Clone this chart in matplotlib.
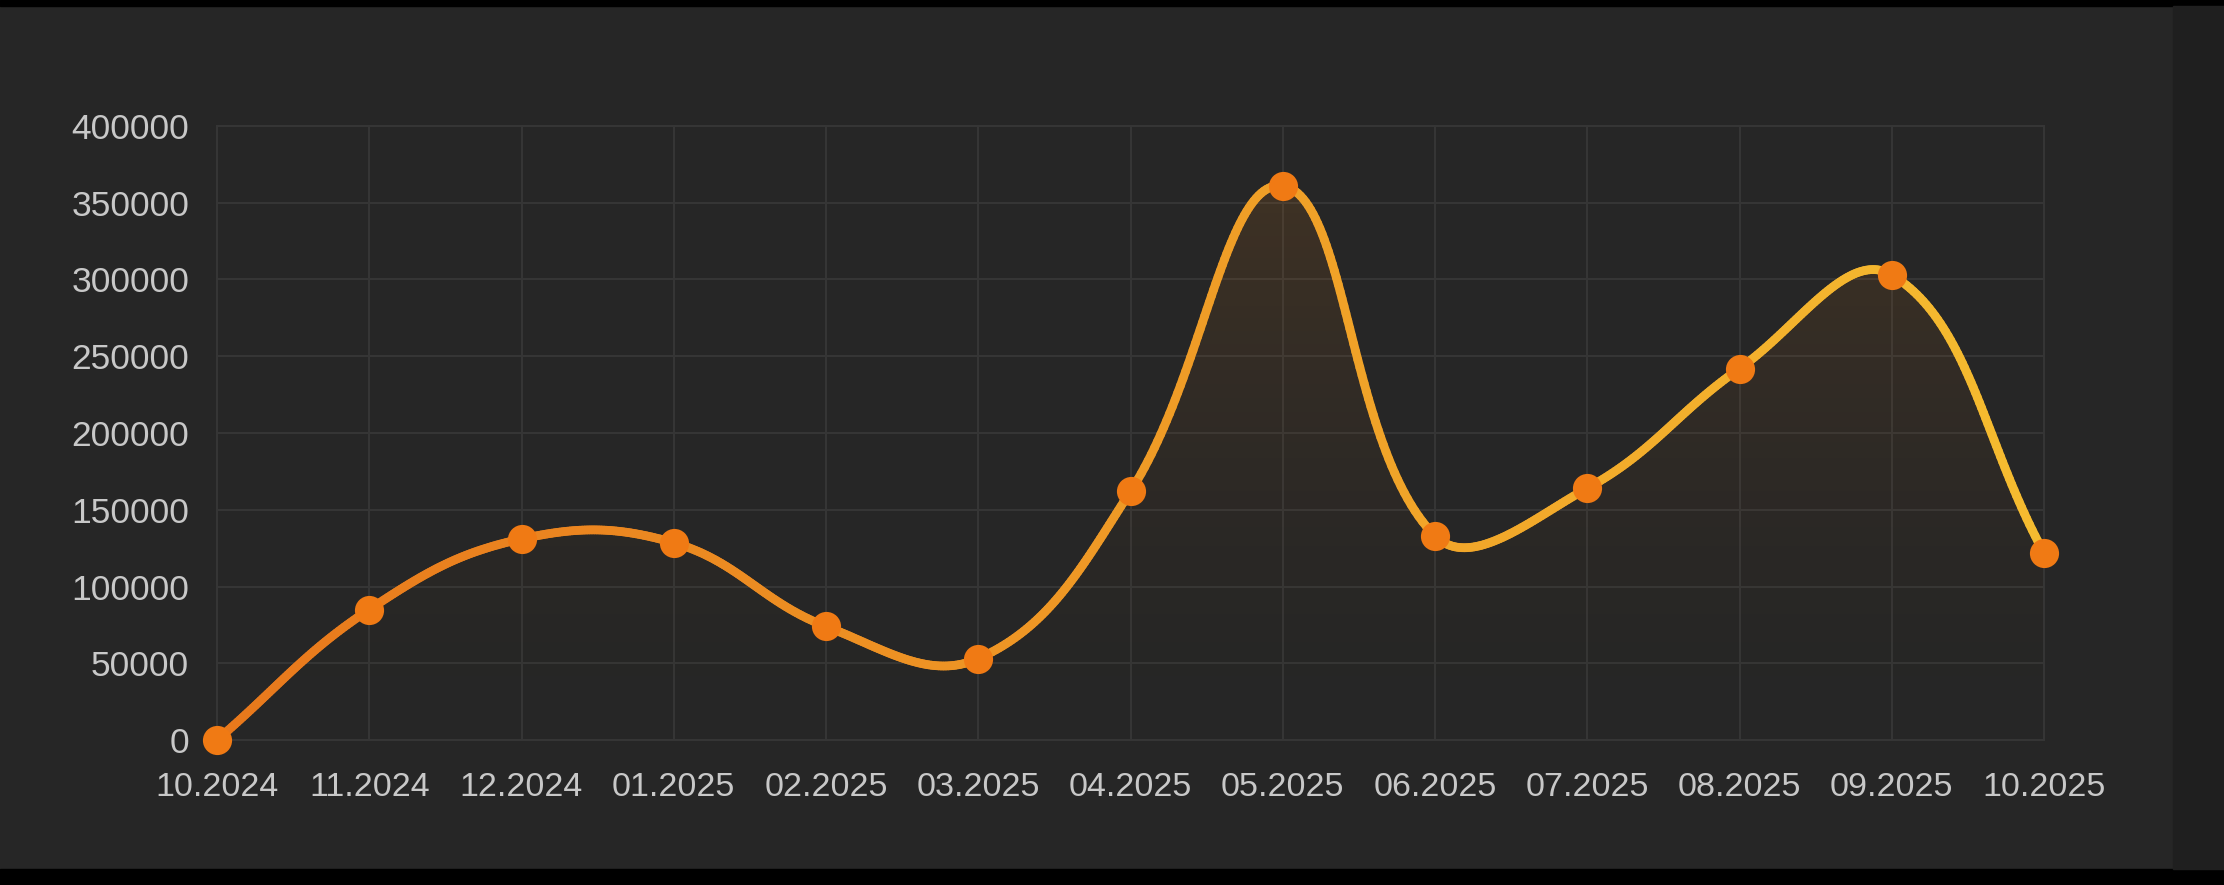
import numpy as np
import matplotlib
matplotlib.use('Agg')
import matplotlib.pyplot as plt
from matplotlib.collections import LineCollection
from matplotlib.patches import Polygon, Rectangle

# Chart data
months = ['10.2024', '11.2024', '12.2024', '01.2025', '02.2025', '03.2025', '04.2025',
          '05.2025', '06.2025', '07.2025', '08.2025', '09.2025', '10.2025']
values = [0, 85000, 131000, 128500, 74000, 53000, 162000,
          361000, 133000, 164000, 242000, 303000, 122000]
y_ticks = [0, 50000, 100000, 150000, 200000, 250000, 300000, 350000, 400000]

bg = '#262626'
grid_col = '#363636'
text_col = '#c8c8c8'

plt.rcParams['font.family'] = ['Liberation Sans', 'DejaVu Sans']

W, H = 2224, 885
fig = plt.figure(figsize=(W / 100, H / 100), dpi=100, facecolor=bg)

# screenshot frame: black top/bottom strips, darker right strip
fig.patches.append(Rectangle((0, 1 - 6 / H), 1, 6 / H, transform=fig.transFigure, color='black', zorder=0))
fig.patches.append(Rectangle((0, 0), 1, 16 / H, transform=fig.transFigure, color='black', zorder=0))
fig.patches.append(Rectangle((2173 / W, 16 / H), 1 - 2173 / W, 1 - 22 / H, transform=fig.transFigure,
                             color='#1f1f1f', zorder=0))

left, right, top, bottom = 217, 2044, 126, 740
ax = fig.add_axes([left / W, 1 - bottom / H, (right - left) / W, (bottom - top) / H])
ax.set_facecolor(bg)

x = np.arange(len(values), dtype=float)
y = np.array(values, dtype=float)
ax.set_xlim(0, len(values) - 1)
ax.set_ylim(0, 400000)

# Chart.js style spline (tension 0.4), distances in pixel space
sx = (right - left) / (len(values) - 1)
sy = (bottom - top) / 400000
t = 0.4
cp_prev = []
cp_next = []
n = len(x)
for i in range(n):
    p0 = (x[max(i - 1, 0)], y[max(i - 1, 0)])
    p1 = (x[i], y[i])
    p2 = (x[min(i + 1, n - 1)], y[min(i + 1, n - 1)])
    d01 = np.hypot((p1[0] - p0[0]) * sx, (p1[1] - p0[1]) * sy)
    d12 = np.hypot((p2[0] - p1[0]) * sx, (p2[1] - p1[1]) * sy)
    tot = d01 + d12
    s01 = d01 / tot if tot else 0
    s12 = d12 / tot if tot else 0
    fa, fb = t * s01, t * s12
    cp_prev.append((p1[0] - fa * (p2[0] - p0[0]), p1[1] - fa * (p2[1] - p0[1])))
    cp_next.append((p1[0] + fb * (p2[0] - p0[0]), p1[1] + fb * (p2[1] - p0[1])))

u = np.linspace(0, 1, 60)
cx, cy = [], []
for i in range(n - 1):
    P0 = np.array([x[i], y[i]])
    P1 = np.array(cp_next[i])
    P2 = np.array(cp_prev[i + 1])
    P3 = np.array([x[i + 1], y[i + 1]])
    seg = ((1 - u) ** 3)[:, None] * P0 + (3 * (1 - u) ** 2 * u)[:, None] * P1 \
        + (3 * (1 - u) * u ** 2)[:, None] * P2 + (u ** 3)[:, None] * P3
    if i > 0:
        seg = seg[1:]
    cx.extend(seg[:, 0])
    cy.extend(seg[:, 1])
cx = np.array(cx)
cy = np.array(cy)

# gradient fill under curve
grad = np.zeros((256, 2, 4))
grad[..., 0] = 0.93
grad[..., 1] = 0.52
grad[..., 2] = 0.10
grad[..., 3] = (np.linspace(1, 0, 256) ** 1.6 * 0.15)[:, None]
img = ax.imshow(grad, extent=[0, n - 1, 0, 400000], aspect='auto', origin='upper', zorder=1)
poly = Polygon(np.column_stack([np.r_[cx, cx[-1], cx[0]], np.r_[cy, 0, 0]]),
               closed=True, transform=ax.transData, facecolor='none', edgecolor='none')
ax.add_patch(poly)
img.set_clip_path(poly)

# gradient line (orange -> yellow)
pts = np.column_stack([cx, cy]).reshape(-1, 1, 2)
segs = np.concatenate([pts[:-1], pts[1:]], axis=1)
c0 = np.array([232, 120, 28]) / 255
c1 = np.array([245, 188, 48]) / 255
frac = (cx[:-1] + cx[1:]) / 2 / (n - 1)
cols = c0[None, :] * (1 - frac[:, None]) + c1[None, :] * frac[:, None]
lc = LineCollection(segs, colors=cols, linewidths=6.3, capstyle='round', joinstyle='round', zorder=3)
ax.add_collection(lc)

ax.plot(x, y, 'o', color='#f07a14', markersize=21, markeredgewidth=0, zorder=4, clip_on=False)

ax.set_xticks(x)
ax.set_xticklabels(months)
ax.set_yticks(y_ticks)
ax.set_yticklabels([str(v) for v in y_ticks])
ax.tick_params(axis='both', length=0, colors=text_col)
ax.tick_params(axis='x', pad=23, labelsize=24.5)
ax.tick_params(axis='y', pad=20, labelsize=25.5)
ax.grid(True, color=grid_col, linewidth=1.4, zorder=0)
ax.set_axisbelow(True)
for s in ax.spines.values():
    s.set_color(grid_col)
    s.set_linewidth(1.4)

fig.savefig('out.png', dpi=100, facecolor=bg)
